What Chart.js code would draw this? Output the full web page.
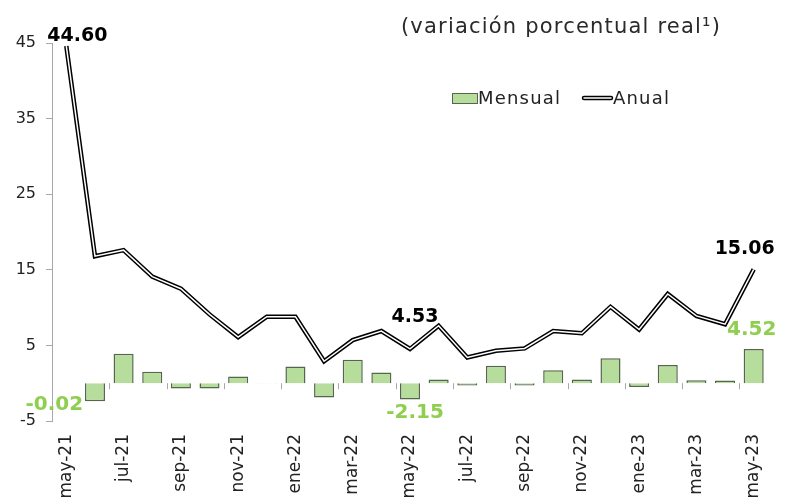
<!DOCTYPE html>
<html>
<head>
<meta charset="utf-8">
<script src="https://cdn.jsdelivr.net/npm/chart.js@4/dist/chart.umd.min.js"></script>
<style>
html,body{margin:0;padding:0;background:#fff;}
canvas{display:block;}
</style>
</head>
<body>
<canvas id="c" width="791" height="502"></canvas>
<script>
const months = ['may-21','jun-21','jul-21','ago-21','sep-21','oct-21','nov-21','dic-21','ene-22','feb-22','mar-22','abr-22','may-22','jun-22','jul-22','ago-22','sep-22','oct-22','nov-22','dic-22','ene-23','feb-23','mar-23','abr-23','may-23'];
const mensual = [-0.02,-2.4,3.9,1.5,-0.7,-0.7,0.9,-0.05,2.2,-1.9,3.1,1.4,-2.15,0.5,-0.3,2.3,-0.3,1.7,0.5,3.3,-0.5,2.4,0.4,0.35,4.52];
const anual = [44.60,16.8,17.6,14.1,12.5,9.1,6.1,8.8,8.8,2.9,5.7,6.9,4.53,7.6,3.4,4.3,4.6,6.9,6.6,10.1,7.1,11.8,8.9,7.8,15.06];
const labeledIdx = [0,12,24];
const titleText = '(variación porcentual real\u00B9)';
const seriesNames = ['Mensual','Anual'];

const FONT = "'DejaVu Sans', sans-serif";
const GREEN_FILL = '#b6dd9c';
const GREEN_EDGE = '#55664d';
const GREEN_TXT = '#8fcf4f';

const lineLabelOffsets = {0:[11,-10],12:[5,-32],24:[-9,-20]};
const barLabelOffsets = {0:[-12,21],12:[5,13],24:[-2,-19]};

const overlay = {
  id:'overlay',
  afterDraw(chart){
    const ctx = chart.ctx;
    const xs = chart.scales.x, ys = chart.scales.y;
    const y0 = ys.getPixelForValue(0);
    ctx.save();
    ctx.strokeStyle = '#a8a8a8'; ctx.lineWidth = 1;
    for (let i = 2; i < months.length; i += 2) {
      const x = Math.round((xs.getPixelForValue(i-1) + xs.getPixelForValue(i))/2) + 0.5;
      ctx.beginPath(); ctx.moveTo(x, y0); ctx.lineTo(x, y0 + 6); ctx.stroke();
    }
    ctx.textAlign = 'center'; ctx.textBaseline = 'middle';
    labeledIdx.forEach(i => {
      const x = xs.getPixelForValue(i);
      const o = lineLabelOffsets[i];
      ctx.fillStyle = '#000';
      ctx.font = "bold 19px " + FONT;
      ctx.fillText(anual[i].toFixed(2), x + o[0], ys.getPixelForValue(anual[i]) + o[1]);
      const b = barLabelOffsets[i];
      ctx.fillStyle = GREEN_TXT;
      ctx.font = "bold 20px " + FONT;
      ctx.fillText(mensual[i].toFixed(2), x + b[0], ys.getPixelForValue(mensual[i]) + b[1]);
    });
    ctx.fillStyle = '#2a2a2a';
    ctx.font = "21px " + FONT;
    ctx.letterSpacing = '1.2px';
    ctx.fillText(titleText, 561, 28);
    ctx.textAlign = 'left';
    ctx.font = "18px " + FONT;
    ctx.letterSpacing = '1.2px';
    ctx.fillStyle = GREEN_FILL; ctx.fillRect(452, 93, 25, 10);
    ctx.lineWidth = 1;
    ctx.strokeStyle = GREEN_EDGE; ctx.strokeRect(452.5, 93.5, 25, 10);
    ctx.fillStyle = '#222';
    ctx.fillText(seriesNames[0], 478, 99);
    ctx.lineCap = 'round';
    ctx.strokeStyle = '#000'; ctx.lineWidth = 4.5;
    ctx.beginPath(); ctx.moveTo(584, 98); ctx.lineTo(611, 98); ctx.stroke();
    ctx.strokeStyle = '#fff'; ctx.lineWidth = 1.5;
    ctx.beginPath(); ctx.moveTo(584, 98); ctx.lineTo(611, 98); ctx.stroke();
    ctx.fillStyle = '#222';
    ctx.fillText(seriesNames[1], 613, 99);
    ctx.restore();
  }
};

new Chart(document.getElementById('c'), {
  data: {
    labels: months,
    datasets: [
      {type:'bar', label: seriesNames[0], data: mensual, backgroundColor: GREEN_FILL, borderColor: GREEN_EDGE, borderWidth: 1.5, barPercentage: 0.7, categoryPercentage: 1.0, order: 3},
      {type:'line', label: seriesNames[1], data: anual, borderColor: '#000', borderWidth: 4.5, pointRadius: 0, tension: 0, borderJoinStyle: 'miter', fill: false, order: 2},
      {type:'line', label: 'inner', data: anual, borderColor: '#fff', borderWidth: 1.5, pointRadius: 0, tension: 0, borderJoinStyle: 'miter', fill: false, order: 1}
    ]
  },
  options: {
    responsive: false,
    animation: false,
    devicePixelRatio: 1,
    layout: {padding: {top: 43, right: 23, left: 0, bottom: 0}},
    plugins: {legend: {display: false}, tooltip: {enabled: false}, title: {display: false}},
    scales: {
      x: {
        grid: {display: false},
        border: {display: false},
        ticks: {
          autoSkip: false, minRotation: 90, maxRotation: 90, padding: 5,
          color: '#222', font: {family: FONT, size: 17},
          callback: (v, i) => i % 2 === 0 ? months[i] : ''
        },
        afterFit: s => { s.height = 81; }
      },
      y: {
        min: -5, max: 45,
        ticks: {stepSize: 10, color: '#222', font: {family: FONT, size: 16}, padding: 10},
        grid: {
          color: c => (c.tick && c.tick.value === 0) ? '#b0b0b0' : 'rgba(0,0,0,0)',
          tickColor: '#a8a8a8', tickLength: 6, lineWidth: 1
        },
        border: {display: true, color: '#a8a8a8'},
        afterFit: s => { s.width = 52; }
      }
    }
  },
  plugins: [overlay]
});
</script>
</body>
</html>
